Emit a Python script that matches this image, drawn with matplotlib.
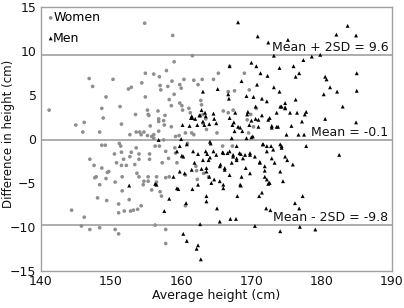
import matplotlib
matplotlib.use("Agg")
import matplotlib.pyplot as plt

# Women: (average height, difference)
women_x = [141.2,145.0,146.0,146.2,144.4,145.8,146.2,147.0,146.9,147.4,147.0,147.6,147.9,147.7,148.1,148.4,
           148.4,148.7,148.7,149.3,148.9,149.2,148.7,148.4,149.3,149.4,149.5,149.7,150.3,150.6,151.1,150.5,
           150.6,150.8,151.2,151.1,151.1,151.3,151.5,151.4,151.5,151.5,151.6,151.6,151.8,151.9,152.2,152.5,
           152.9,152.7,152.7,152.6,152.8,152.9,153.2,153.4,153.5,153.6,153.6,153.7,153.8,154.0,154.0,154.0,
           154.1,154.3,154.3,154.4,154.6,154.7,154.7,154.8,154.9,154.9,155.2,155.3,155.4,155.2,155.5,155.5,
           155.3,155.3,155.6,155.8,155.8,156.1,156.1,156.1,156.3,156.3,156.5,156.5,156.7,156.8,156.8,156.8,
           156.9,156.9,157.0,157.1,157.0,157.2,157.3,157.5,157.5,157.6,157.7,157.8,157.8,157.9,158.1,157.8,
           157.8,158.3,158.2,158.3,158.6,158.6,158.7,158.8,159.0,159.0,159.1,159.2,159.2,159.4,159.7,159.8,
           160.0,159.8,160.1,160.2,160.4,160.6,160.6,160.6,160.9,161.1,161.3,161.6,161.5,161.8,161.8,162.1,
           162.2,162.3,162.4,162.8,163.0,162.9,163.1,163.1,163.5,163.6,164.6,165.3,165.1,165.9,166.0,166.7,
           166.7,166.9,167.3,167.6,167.4,169.0,169.7,169.9,169.4,170.3,170.7,169.6,163.2,163.9]
women_y = [3.3,1.6,0.8,1.9,-8.1,-9.9,-8.9,-10.3,6.9,6.0,-2.3,-3.0,-4.3,-4.4,-6.7,-10.1,
           0.8,-0.7,3.5,4.8,2.4,-0.7,-3.3,-5.2,-4.5,-7.0,-3.8,-3.7,6.8,-10.3,-10.8,-1.7,
           -4.9,-2.7,-0.5,-7.4,-8.4,3.7,1.7,-0.8,-1.5,-3.0,-5.9,-4.3,-2.3,-8.2,-3.0,5.7,
           5.9,0.5,-2.0,-6.9,-8.2,-1.5,-8.1,-2.9,2.8,0.8,-1.0,-3.9,-8.0,-1.7,-2.3,-4.3,
           0.8,0.5,-7.6,6.4,-5.2,-4.8,0.8,13.2,7.5,4.8,3.3,2.8,2.7,0.4,-1.7,-2.3,
           -4.3,-4.8,1.5,0.3,-5.8,7.4,0.5,0.1,-0.8,-9.8,-4.3,-4.9,3.2,2.3,2.0,0.9,
           -0.8,7.1,6.1,5.6,-6.0,-6.5,-2.7,-0.1,2.1,1.6,2.7,-10.3,-11.9,7.8,6.0,-1.4,
           -4.4,4.5,-2.2,-4.3,3.8,1.4,6.6,11.8,8.8,5.1,-1.0,0.3,-1.6,-2.7,0.4,6.2,
           5.8,4.1,3.8,3.3,6.8,0.7,-4.1,-7.6,-0.5,3.5,3.0,9.5,0.7,6.7,0.5,-3.1,
           -3.6,-4.6,6.2,4.4,6.8,3.9,2.8,1.8,2.3,1.1,6.8,7.5,0.7,-0.8,3.2,3.0,
           5.4,8.3,-0.8,5.5,3.3,7.5,5.6,2.8,2.2,1.4,3.5,0.7,-3.9,-4.3]

# Men: (average height, difference)
men_x = [152.6,156.3,157.6,156.8,156.5,158.9,158.3,159.4,159.6,159.8,160.0,160.1,160.2,160.3,160.7,160.8,
         161.2,161.4,161.6,161.9,161.6,162.2,162.4,162.7,162.8,162.3,162.6,162.9,163.1,163.1,163.3,163.4,
         163.5,163.6,163.6,163.6,163.9,164.0,164.2,164.6,164.7,164.7,165.0,165.1,165.2,165.5,165.5,165.6,
         165.9,166.0,166.2,166.6,166.7,166.8,167.0,166.9,167.2,167.4,167.5,167.6,167.7,167.8,167.9,168.0,
         168.1,168.3,168.4,168.5,168.6,168.7,168.8,169.2,169.3,169.4,169.7,169.8,170.0,170.2,170.3,170.5,
         170.6,170.7,170.8,170.9,171.0,171.1,171.2,171.3,171.5,171.5,171.6,171.9,171.9,172.1,172.2,172.3,
         172.4,172.4,172.5,172.7,172.8,172.9,172.9,173.2,173.2,173.3,173.6,173.8,174.0,174.0,174.1,174.3,
         174.3,174.5,174.8,174.8,175.0,175.1,175.2,175.5,175.7,175.9,176.0,176.2,176.3,176.3,176.5,176.7,
         176.8,176.8,176.9,177.2,177.3,177.4,177.5,177.6,177.8,177.8,178.6,179.1,179.8,180.3,180.5,180.7,
         180.5,181.2,182.1,182.2,182.5,183.0,183.7,184.9,185.0,185.0,184.9,
         161.5,162.0,162.7,163.5,164.0,164.6,165.0,166.9,167.3,168.1,169.5,170.0,170.6,171.0,171.5,172.6,
         172.9,173.6,174.1,174.8,164.1,167.2,167.9,169.3,170.0,171.7,172.2,174.1,160.8,161.7,160.3,162.4,
         163.1,163.7,164.1,166.0,166.9,167.4,167.9,168.5,169.1,169.8,170.5,171.2,172.2,173.1,174.3,174.8,
         159.8,160.5,161.5,162.9,163.6,164.3,165.5,166.2,166.9,168.6,169.8,171.9,172.2,172.6,174.1,159.4,
         162.4,166.0,168.4,172.4]
men_y = [-5.3,-5.1,-8.2,-0.1,-5.2,-4.3,-6.8,-1.4,-5.7,-0.8,0.0,-1.9,1.6,-10.8,-7.3,-11.6,
         1.5,2.4,2.4,-2.7,-5.7,-12.5,-12.1,-9.7,-13.7,1.6,2.7,3.3,5.4,2.0,1.6,3.0,
         -1.4,-3.3,-6.5,-7.1,-2.4,-4.3,-0.5,-1.4,-4.6,2.3,-1.8,-7.9,5.7,-9.4,-4.8,-2.9,
         -1.5,-5.2,-3.3,-1.6,5.1,4.6,-9.1,8.3,-2.7,-1.8,1.9,0.9,3.0,-9.1,-2.4,-6.5,
         13.3,-1.6,1.3,-5.3,6.6,0.9,-2.2,-3.3,4.9,2.8,1.6,-1.8,8.7,0.3,4.8,-9.9,
         3.7,8.3,6.2,11.7,2.2,-6.5,-2.7,7.5,-6.1,4.6,-0.6,-3.1,-4.3,-7.9,4.3,7.2,
         11.0,2.2,-5.0,-8.1,-0.8,-2.2,1.5,5.9,9.5,-2.7,3.0,1.4,5.4,8.1,-10.5,3.7,
         -0.8,-4.8,3.5,4.1,0.5,-2.4,11.3,3.0,1.5,-2.9,8.3,-7.3,7.1,4.5,3.0,0.5,
         -7.9,7.5,-10.0,2.0,-6.5,9.0,0.5,2.8,3.1,-0.8,9.4,-10.3,9.6,5.1,7.1,6.8,
         2.3,5.9,11.9,5.4,-1.8,3.7,12.9,11.8,7.5,5.5,1.9,
         2.6,2.3,2.7,2.6,1.7,2.9,1.8,2.4,1.6,1.4,3.1,2.1,2.3,1.4,2.7,2.4,
         1.3,1.4,3.7,3.6,-0.3,0.1,-0.8,0.1,0.2,-0.6,-0.8,-0.6,-0.6,-1.4,-2.0,-1.7,
         -2.4,-1.7,-2.1,-1.6,-1.4,-2.0,-2.2,-1.7,-1.8,-1.6,-2.0,-2.6,-1.4,-1.2,-1.0,-2.0,
         -3.7,-3.9,-3.5,-3.4,-3.7,-5.0,-3.1,-3.5,-4.1,-4.3,-3.9,-3.6,-4.6,-5.0,-3.7,-5.6,
         -5.2,-5.6,-5.2,-5.1]

ref_values = [9.6, -0.1, -9.8]
ref_labels = ["Mean + 2SD = 9.6", "Mean = -0.1", "Mean - 2SD = -9.8"]

fig = plt.figure(figsize=(4.04, 3.08), dpi=100)
ax = fig.add_axes([0.1007, 0.121, 0.8693, 0.855])

gray = "#8e8e8e"
for v in ref_values:
    ax.axhline(v, color="#a0a0a0", lw=1.2, zorder=1)

ax.scatter(women_x, women_y, s=7, marker="o", color=gray, edgecolors="none", zorder=2, label="Women")
ax.scatter(men_x, men_y, s=8, marker="^", color="black", edgecolors="none", zorder=3, label="Men")

for v, t in zip(ref_values, ref_labels):
    ax.text(189.5, v + 0.1, t, ha="right", va="bottom", fontsize=9, color="#111111", zorder=4)

ax.set_xlim(140, 190)
ax.set_ylim(-15, 15)
ax.set_xticks([140, 150, 160, 170, 180, 190])
ax.set_yticks([-15, -10, -5, 0, 5, 10, 15])
ax.tick_params(length=0, labelsize=9, colors="#111111", pad=3)
for s in ax.spines.values():
    s.set_color("#a0a0a0")
    s.set_linewidth(1.0)
ax.set_xlabel("Average height (cm)", fontsize=9, labelpad=1, color="#111111")
ax.set_ylabel("Difference in height (cm)", fontsize=8.5, color="#111111")
ax.yaxis.set_label_coords(-0.072, 0.52)

leg = ax.legend(loc="upper left", frameon=False, fontsize=9, handletextpad=-0.3,
                borderaxespad=0.1, labelspacing=0.6, handlelength=1.0, markerscale=1.0,
                borderpad=0.2)
fig.savefig("out.png", dpi=100)
